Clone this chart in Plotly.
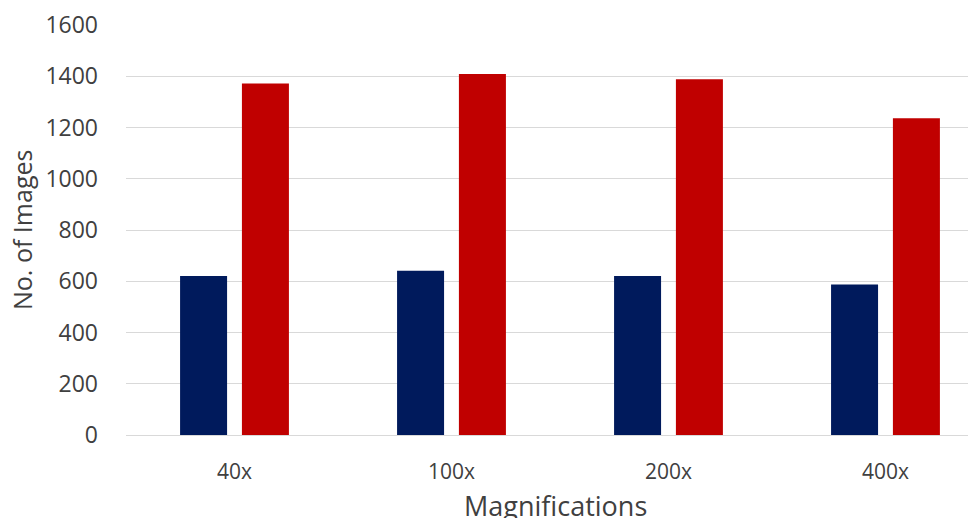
import plotly.graph_objects as go

categories = ["40x", "100x", "200x", "400x"]
benign = [620, 641, 620, 587]
malignant = [1372, 1409, 1388, 1236]
y_ticks = [0, 200, 400, 600, 800, 1000, 1200, 1400, 1600]

fig = go.Figure()
fig.add_trace(go.Bar(x=categories, y=benign, name="Benign", marker=dict(color="#001a5c", line=dict(width=0))))
fig.add_trace(go.Bar(x=categories, y=malignant, name="Malignant", marker=dict(color="#c00000", line=dict(width=0))))

fig.update_layout(
    width=976, height=518,
    margin=dict(l=118, r=0, t=17, b=91, autoexpand=False),
    paper_bgcolor="white", plot_bgcolor="white",
    barmode="group", bargap=0.43, bargroupgap=0.24,
    showlegend=False,
    font=dict(family="Open Sans, sans-serif", color="#404040"),
    xaxis=dict(
        range=[-0.5, 3.454], showgrid=False, showline=False, zeroline=False, automargin=False,
        tickfont=dict(family="Open Sans, sans-serif", size=21, color="#404040"),
        ticklabelstandoff=22, ticks="",
    ),
    yaxis=dict(
        range=[0, 1600], tickvals=y_ticks, showgrid=True, gridcolor="#d9d9d9", gridwidth=1,
        zeroline=True, zerolinecolor="#d9d9d9", zerolinewidth=1, showline=False, automargin=False,
        tickfont=dict(family="Open Sans, sans-serif", size=23, color="#404040"),
        ticklabelstandoff=27, ticks="",
    ),
    annotations=[
        dict(text="No. of Images", xref="paper", yref="paper", x=0, y=0.5, xshift=-104,
             textangle=-90, showarrow=False, xanchor="center", yanchor="middle",
             font=dict(family="Open Sans, sans-serif", size=25, color="#404040")),
        dict(text="Magnifications", xref="paper", yref="paper", x=0.5, y=0, yshift=-70,
             showarrow=False, xanchor="center", yanchor="middle",
             font=dict(family="Open Sans, sans-serif", size=27, color="#404040")),
    ],
)

fig.write_html("out.html")
